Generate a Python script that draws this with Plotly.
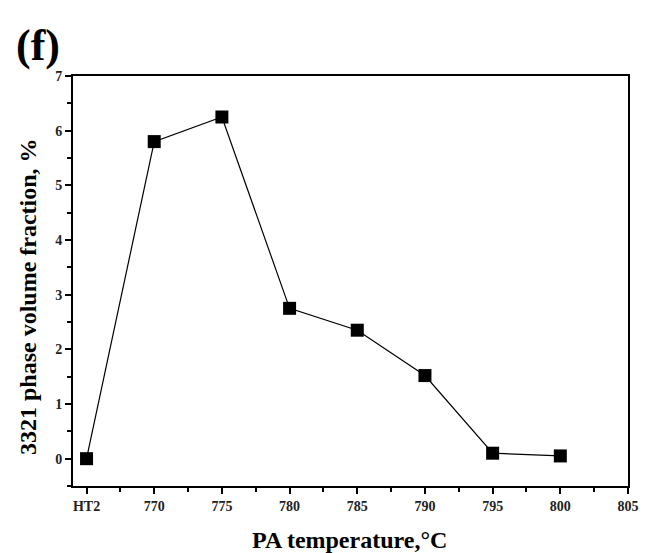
import plotly.graph_objects as go

temps = [765, 770, 775, 780, 785, 790, 795, 800]
fraction = [0.0, 5.8, 6.25, 2.75, 2.35, 1.52, 0.1, 0.05]
x_tickvals = [765, 770, 775, 780, 785, 790, 795, 800, 805]
x_ticktext = ["HT2", "770", "775", "780", "785", "790", "795", "800", "805"]
y_tickvals = [0, 1, 2, 3, 4, 5, 6, 7]

font_family = "Liberation Serif"

fig = go.Figure()
fig.add_trace(go.Scatter(
    x=temps, y=fraction, mode="lines+markers",
    line=dict(color="black", width=1.2),
    marker=dict(symbol="square", size=13, color="black"),
    showlegend=False,
))

axis_common = dict(
    showline=True, linecolor="black", linewidth=2, mirror=True,
    ticks="outside", ticklen=6, tickwidth=1.5, tickcolor="black",
    showgrid=False, zeroline=False, automargin=False,
    tickfont=dict(family=font_family, size=14, color="#222", weight="bold"),
)

fig.update_xaxes(
    range=[764, 805], tickvals=x_tickvals, ticktext=x_ticktext,
    minor=dict(ticks="outside", ticklen=4, tickwidth=1.5, tickcolor="black", dtick=2.5, tick0=762.5),
    **axis_common,
)
fig.update_yaxes(
    range=[-0.5, 7], tickvals=y_tickvals,
    minor=dict(ticks="outside", ticklen=4, tickwidth=1.5, tickcolor="black", dtick=0.5, tick0=0),
    **axis_common,
)

fig.add_annotation(
    text="<b>PA temperature,°C</b>", xref="paper", yref="paper", x=0.499, y=-0.132,
    xanchor="center", yanchor="middle", showarrow=False,
    font=dict(family=font_family, size=24, color="black"),
)
fig.add_annotation(
    text="<b>3321 phase volume fraction, %</b>", xref="paper", yref="paper", x=-0.081, y=0.461,
    xanchor="center", yanchor="middle", showarrow=False, textangle=-90,
    font=dict(family=font_family, size=24, color="black"),
)
fig.add_annotation(
    text="<b>(f)</b>", xref="paper", yref="paper", x=-0.107, y=1.14,
    xanchor="left", yanchor="top", showarrow=False,
    font=dict(family=font_family, size=44, color="black"),
)

fig.update_layout(
    width=652, height=553,
    margin=dict(l=73, r=24, t=76, b=67),
    plot_bgcolor="white", paper_bgcolor="white",
    font=dict(family=font_family, color="black"),
)

fig.write_html("out.html")
